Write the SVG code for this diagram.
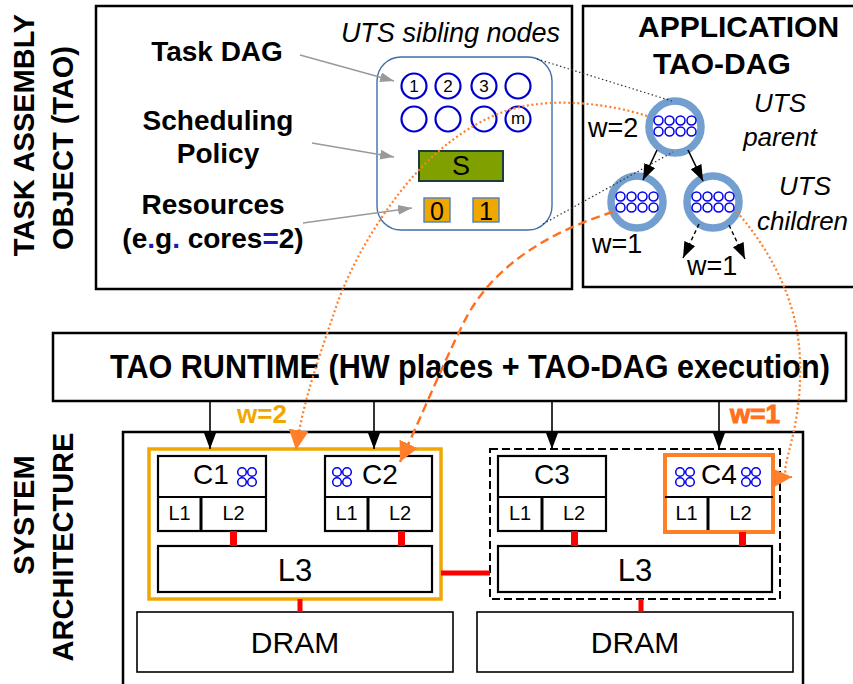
<svg xmlns="http://www.w3.org/2000/svg" width="853" height="684" viewBox="0 0 853 684">
<style>
text { font-family: "Liberation Sans", Arial, sans-serif; fill: #000; }
.bold { font-weight: bold; }
.side { font-weight: bold; font-size: 29px; }
.lbl { font-weight: bold; font-size: 28px; }
.it { font-style: italic; font-size: 26px; }
.w { font-size: 27px; }
.frame { fill: #fff; stroke: #000; stroke-width: 2.5; }
.core { fill: #fff; stroke: #000; stroke-width: 2.2; }
.thin { fill: #fff; stroke: #000; stroke-width: 1.6; }
.div { stroke: #000; stroke-width: 2; }
.divx { stroke: #000; stroke-width: 3; }
.tc { fill: #fff; stroke: #0000cc; stroke-width: 2.2; }
.sc { fill: none; stroke: #0000ee; stroke-width: 1.5; }
.ring { fill: #fff; stroke: #729fcf; stroke-width: 7.5; }
.red { fill: #ff0000; }
.gray { stroke: #9a9a9a; stroke-width: 1.6; fill: none; marker-end: url(#aGray); }
.zoomline { stroke: #333; stroke-width: 1.2; stroke-dasharray: 1.5 2.5; fill: none; }
.blk { stroke: #000; stroke-width: 1.6; fill: none; marker-end: url(#aBlack); }
.blkd { stroke: #000; stroke-width: 1.4; fill: none; stroke-dasharray: 4 3; marker-end: url(#aBlack); }
.odot { stroke: #ff7f2a; stroke-width: 2.2; fill: none; stroke-dasharray: 2 2.6; marker-end: url(#aOrange); }
.odash { stroke: #ff7020; stroke-width: 2.4; fill: none; stroke-dasharray: 9 5; marker-end: url(#aOrange); }
.cl { font-size: 28px; }
.ll { font-size: 20px; }
.l3 { font-size: 31px; }
.dram { font-size: 30px; }
.blue { fill: #1a1ab0; }
</style>
<defs>
<marker id="aGray" markerUnits="userSpaceOnUse" viewBox="0 0 14 10" markerWidth="14" markerHeight="10" refX="14" refY="5" orient="auto"><path d="M0,0 L14,5 L0,10 z" fill="#9a9a9a"/></marker>
<marker id="aBlack" markerUnits="userSpaceOnUse" viewBox="0 0 16 12" markerWidth="16" markerHeight="12" refX="16" refY="6" orient="auto"><path d="M0,0 L16,6 L0,12 z" fill="#000"/></marker>
<marker id="aOrange" markerUnits="userSpaceOnUse" viewBox="0 0 20 20" markerWidth="20" markerHeight="20" refX="20" refY="10" orient="auto"><path d="M0,0 L20,10 L0,20 z" fill="#ff7f2a"/></marker>
<g id="quad"><circle class="sc" cx="0" cy="0" r="4.3"/><circle class="sc" cx="10" cy="0" r="4.3"/><circle class="sc" cx="0" cy="10" r="4.3"/><circle class="sc" cx="10" cy="10" r="4.3"/></g>
<g id="oct"><circle class="sc" cx="-16.5" cy="-5.5" r="4.5"/><circle class="sc" cx="-5.5" cy="-5.5" r="4.5"/><circle class="sc" cx="5.5" cy="-5.5" r="4.5"/><circle class="sc" cx="16.5" cy="-5.5" r="4.5"/><circle class="sc" cx="-16.5" cy="5.5" r="4.5"/><circle class="sc" cx="-5.5" cy="5.5" r="4.5"/><circle class="sc" cx="5.5" cy="5.5" r="4.5"/><circle class="sc" cx="16.5" cy="5.5" r="4.5"/></g>
</defs>
<rect width="853" height="684" fill="#fff"/>

<g id="side-labels">
<text class="side" transform="translate(34,135) rotate(-90)" text-anchor="middle">TASK ASSEMBLY</text>
<text class="side" transform="translate(73,148) rotate(-90)" text-anchor="middle">OBJECT (TAO)</text>
<text class="side" transform="translate(34,515) rotate(-90)" text-anchor="middle">SYSTEM</text>
<text class="side" transform="translate(73,547) rotate(-90)" text-anchor="middle">ARCHITECTURE</text>
</g>

<g id="tao-box">
<rect class="frame" x="96" y="6" width="476" height="283"/>
<text class="it" x="560" y="42" text-anchor="end" style="font-size:27px">UTS sibling nodes</text>
<text class="lbl" x="217" y="61" text-anchor="middle">Task DAG</text>
<text class="lbl" x="218" y="130" text-anchor="middle">Scheduling</text>
<text class="lbl" x="218" y="163" text-anchor="middle">Policy</text>
<text class="lbl" x="213" y="214" text-anchor="middle">Resources</text>
<text class="lbl" x="213" y="248" text-anchor="middle">(e<tspan class="blue">.</tspan>g<tspan class="blue">.</tspan> cores<tspan class="blue">=</tspan>2)</text>
</g>

<g id="tao-object">
<rect x="377" y="57" width="175" height="173" rx="24" fill="#fff" stroke="#3d6fa8" stroke-width="1.4"/>
<circle class="tc" cx="414" cy="86" r="12.5"/><circle class="tc" cx="448" cy="86" r="12.5"/><circle class="tc" cx="484" cy="86" r="12.5"/><circle class="tc" cx="518" cy="86" r="12.5"/>
<circle class="tc" cx="414" cy="119" r="12.5"/><circle class="tc" cx="448" cy="119" r="12.5"/><circle class="tc" cx="484" cy="119" r="12.5"/><circle class="tc" cx="518" cy="119" r="12.5"/>
<text x="414" y="92" font-size="17" text-anchor="middle">1</text>
<text x="448" y="92" font-size="17" text-anchor="middle">2</text>
<text x="484" y="92" font-size="17" text-anchor="middle">3</text>
<text x="518" y="124" font-size="17" text-anchor="middle">m</text>
<rect x="419" y="151" width="84" height="30" fill="#80a000" stroke="#1e3c3c" stroke-width="2"/>
<text x="461" y="175" font-size="27" text-anchor="middle">S</text>
<rect x="424" y="198" width="26" height="24" fill="#f0a800" stroke="#4f7fbf" stroke-width="1.4"/>
<rect x="473" y="198" width="26" height="24" fill="#f0a800" stroke="#4f7fbf" stroke-width="1.4"/>
<text x="437" y="220" font-size="25" text-anchor="middle">0</text>
<text x="486" y="220" font-size="25" text-anchor="middle">1</text>
</g>

<g id="app-box">
<rect class="frame" x="583" y="6" width="290" height="281"/>
<text class="bold" x="638" y="37" font-size="30">APPLICATION</text>
<text class="bold" x="653" y="74" font-size="30">TAO-DAG</text>
<text class="it" x="780" y="112" text-anchor="middle">UTS</text>
<text class="it" x="780" y="146" text-anchor="middle">parent</text>
<text class="it" x="805" y="195" text-anchor="middle">UTS</text>
<text class="it" x="757" y="230">children</text>
<text class="w" x="588" y="137">w=2</text>
<text class="w" x="592" y="253">w=1</text>
<text class="w" x="687" y="275">w=1</text>
</g>
<g id="uts-parent"><circle class="ring" cx="675" cy="127" r="26"/><use href="#oct" x="675" y="126"/></g>
<g id="uts-child-left"><circle class="ring" cx="637" cy="202" r="26"/><use href="#oct" x="637" y="202"/></g>
<g id="uts-child-right"><circle class="ring" cx="713" cy="202" r="26"/><use href="#oct" x="713" y="202"/></g>

<g id="tao-runtime">
<rect class="frame" x="53" y="333" width="793" height="68" stroke-width="2.2"/>
<text class="bold" font-size="33" transform="translate(110,378) scale(0.927,1)">TAO RUNTIME (HW places + TAO-DAG execution)</text>
</g>

<g id="system">
<rect class="frame" x="123" y="432" width="680" height="275"/>
</g>
<g id="cluster-w2">
<rect x="149" y="449" width="292" height="150" fill="#fff" stroke="#f0a800" stroke-width="3.5"/>
<text class="bold" x="237" y="423" font-size="26" style="fill:#f0a800">w=2</text>
</g>
<g id="cluster-2">
<rect x="490" y="449" width="290" height="150" fill="#fff" stroke="#000" stroke-width="2" stroke-dasharray="8 4"/>
<text class="bold" x="730" y="423" font-size="26" style="fill:#ff7020" stroke="#ff7020" stroke-width="1">w=1</text>
</g>
<g id="core-c1">
<rect class="core" x="158" y="456" width="108" height="75"/>
<line class="div" x1="158" y1="497" x2="266" y2="497"/><line class="divx" x1="201" y1="497" x2="201" y2="531"/>
<text class="cl" x="193" y="484">C1</text><use href="#quad" x="242" y="472"/>
<text class="ll" x="179.5" y="520" text-anchor="middle">L1</text><text class="ll" x="233.5" y="520" text-anchor="middle">L2</text>
</g>
<g id="core-c2">
<rect class="core" x="325" y="456" width="107" height="75"/>
<line class="div" x1="325" y1="497" x2="432" y2="497"/><line class="divx" x1="368" y1="497" x2="368" y2="531"/>
<use href="#quad" x="337" y="472"/><text class="cl" x="362" y="484">C2</text>
<text class="ll" x="346.5" y="520" text-anchor="middle">L1</text><text class="ll" x="400" y="520" text-anchor="middle">L2</text>
</g>
<g id="l3-left"><rect class="core" x="158" y="546" width="274" height="46"/><text class="l3" x="295" y="581" text-anchor="middle">L3</text></g>
<g id="dram-left"><rect class="thin" x="137" y="612" width="316" height="60"/><text class="dram" x="295" y="653" text-anchor="middle">DRAM</text></g>
<g id="core-c3">
<rect class="core" x="498" y="456" width="108" height="75"/>
<line class="div" x1="498" y1="497" x2="606" y2="497"/><line class="divx" x1="542" y1="497" x2="542" y2="531"/>
<text class="cl" x="552" y="484" text-anchor="middle">C3</text>
<text class="ll" x="520" y="520" text-anchor="middle">L1</text><text class="ll" x="574" y="520" text-anchor="middle">L2</text>
</g>
<g id="core-c4">
<rect x="665" y="455" width="108" height="77" fill="#fff" stroke="#ff7f27" stroke-width="4"/>
<line class="div" x1="665" y1="497" x2="773" y2="497"/><line class="divx" x1="708" y1="497" x2="708" y2="530"/>
<use href="#quad" x="680" y="472"/><text class="cl" x="701" y="484">C4</text><use href="#quad" x="746" y="472"/>
<text class="ll" x="686.5" y="520" text-anchor="middle">L1</text><text class="ll" x="740.5" y="520" text-anchor="middle">L2</text>
</g>
<g id="l3-right"><rect class="core" x="498" y="546" width="274" height="46"/><text class="l3" x="635" y="581" text-anchor="middle">L3</text></g>
<g id="dram-right"><rect class="thin" x="477" y="612" width="316" height="60"/><text class="dram" x="635" y="653" text-anchor="middle">DRAM</text></g>

<g id="connectors">
<line class="gray" x1="300" y1="55" x2="394" y2="81"/>
<line class="gray" x1="312" y1="143" x2="394" y2="157"/>
<line class="gray" x1="303" y1="223" x2="412" y2="208"/>
<line class="zoomline" x1="537" y1="59" x2="672" y2="101"/>
<line class="zoomline" x1="543" y1="224" x2="673" y2="152"/>
<line class="blk" x1="657" y1="150" x2="643" y2="180"/>
<line class="blk" x1="688" y1="150" x2="703" y2="181"/>
<line class="blkd" x1="699" y1="224" x2="683" y2="258"/>
<line class="blkd" x1="729" y1="225" x2="745" y2="259"/>
<line class="blk" x1="210" y1="401" x2="210" y2="449"/>
<line class="blk" x1="374" y1="401" x2="374" y2="449"/>
<line class="blk" x1="552" y1="401" x2="552" y2="449"/>
<line class="blk" x1="719" y1="401" x2="719" y2="449"/>
<rect class="red" x="230" y="531" width="7" height="15"/>
<rect class="red" x="398" y="531" width="7" height="15"/>
<rect class="red" x="571" y="531" width="7" height="15"/>
<rect class="red" x="739" y="532" width="7" height="14"/>
<rect class="red" x="297.5" y="599" width="5" height="13"/>
<rect class="red" x="638.5" y="599" width="5" height="13"/>
<rect class="red" x="441" y="570.5" width="49" height="5"/>
<path class="odot" d="M 647,116 C 610,104 560,98 520,107 C 480,116 440,145 410,180 C 380,215 350,265 335,310 C 320,355 303,400 296,450"/>
<path class="odash" d="M 613,212 C 555,230 495,262 465,320 C 440,370 420,420 400,462"/>
<path class="odot" d="M 737,212 C 770,250 798,300 800,360 C 803,440 772,478 792,477"/>
</g>
</svg>
